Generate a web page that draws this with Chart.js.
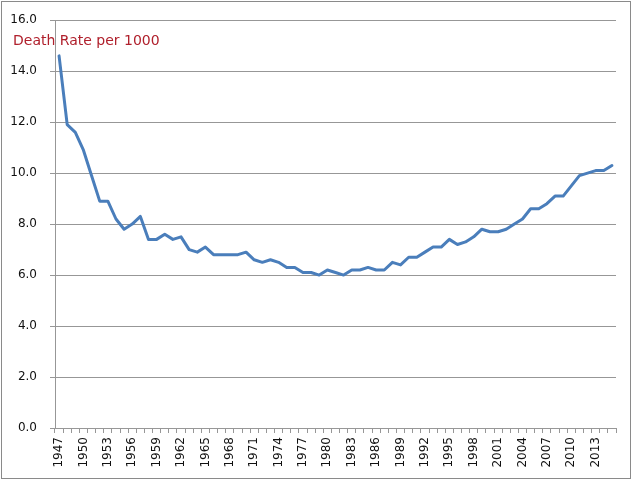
<!DOCTYPE html>
<html>
<head>
<meta charset="utf-8">
<script src="https://cdn.jsdelivr.net/npm/chart.js@4/dist/chart.umd.min.js"></script>
<style>
	html, body { margin: 0; padding: 0; background: #fff; }
	#wrap { width: 632px; height: 480px; }
</style>
</head>
<body>
<div id="wrap"><canvas id="chart" width="632" height="480"></canvas></div>
<script>
let years = [
	'1947', '1948', '1949', '1950', '1951', '1952', '1953', '1954', '1955', '1956',
	'1957', '1958', '1959', '1960', '1961', '1962', '1963', '1964', '1965', '1966',
	'1967', '1968', '1969', '1970', '1971', '1972', '1973', '1974', '1975', '1976',
	'1977', '1978', '1979', '1980', '1981', '1982', '1983', '1984', '1985', '1986',
	'1987', '1988', '1989', '1990', '1991', '1992', '1993', '1994', '1995', '1996',
	'1997', '1998', '1999', '2000', '2001', '2002', '2003', '2004', '2005', '2006',
	'2007', '2008', '2009', '2010', '2011', '2012', '2013', '2014', '2015',
];
let deathRate = [
	14.6, 11.9, 11.6, 10.9, 9.9, 8.9, 8.9, 8.2, 7.8, 8.0,
	8.3, 7.4, 7.4, 7.6, 7.4, 7.5, 7.0, 6.9, 7.1, 6.8,
	6.8, 6.8, 6.8, 6.9, 6.6, 6.5, 6.6, 6.5, 6.3, 6.3,
	6.1, 6.1, 6.0, 6.2, 6.1, 6.0, 6.2, 6.2, 6.3, 6.2,
	6.2, 6.5, 6.4, 6.7, 6.7, 6.9, 7.1, 7.1, 7.4, 7.2,
	7.3, 7.5, 7.8, 7.7, 7.7, 7.8, 8.0, 8.2, 8.6, 8.6,
	8.8, 9.1, 9.1, 9.5, 9.9, 10.0, 10.1, 10.1, 10.3,
];
let titleText = 'Death Rate per 1000';

let gridColor = '#979797';
let fontFamily = '"DejaVu Sans", Verdana, sans-serif';

// outer frame + the red label sitting inside the plot
let decor = {
	id: 'decor',
	afterDraw: function(chart) {
		let ctx = chart.ctx;
		ctx.save();
		ctx.strokeStyle = '#8a8a8a';
		ctx.lineWidth = 1;
		ctx.strokeRect(1.5, 1.5, 629, 477);
		ctx.fillStyle = '#b0202c';
		ctx.font = '14px ' + fontFamily;
		ctx.textBaseline = 'middle';
		ctx.textAlign = 'left';
		ctx.fillText(titleText, 13, 41);
		ctx.restore();
	},
};

let config = {
	type: 'line',
	data: {
		labels: years,
		datasets: [{
			label: titleText,
			data: deathRate,
			fill: false,
			borderColor: '#4a7ebb',
			backgroundColor: '#4a7ebb',
			borderWidth: 3,
			pointRadius: 0,
			tension: 0,
			borderJoinStyle: 'round',
			borderCapStyle: 'round',
		}],
	},
	options: {
		responsive: false,
		animation: false,
		layout: {
			padding: {top: 16, right: 16, left: 0, bottom: 0},
		},
		plugins: {
			legend: {display: false},
			tooltip: {enabled: false},
		},
		scales: {
			x: {
				offset: true,
				afterFit: function(scale) { scale.height = 52; },
				grid: {
					offset: true,
					drawOnChartArea: false,
					drawTicks: true,
					tickLength: 5,
					color: gridColor,
				},
				border: {color: gridColor},
				ticks: {
					autoSkip: false,
					maxRotation: 90,
					minRotation: 90,
					padding: 4,
					color: '#111',
					font: {family: fontFamily, size: 12},
					callback: function(v, i) {
						return i % 3 == 0 ? years[i] : '';
					},
				},
			},
			y: {
				min: 0,
				max: 16,
				afterFit: function(scale) { scale.width = 55; },
				grid: {
					color: gridColor,
					tickLength: 5,
				},
				border: {color: gridColor},
				ticks: {
					stepSize: 2,
					padding: 13,
					color: '#111',
					font: {family: fontFamily, size: 12},
					callback: function(v) { return v.toFixed(1); },
				},
			},
		},
	},
	plugins: [decor],
};

let ctx = document.getElementById('chart').getContext('2d');
let chart = new Chart(ctx, config);
</script>
</body>
</html>
